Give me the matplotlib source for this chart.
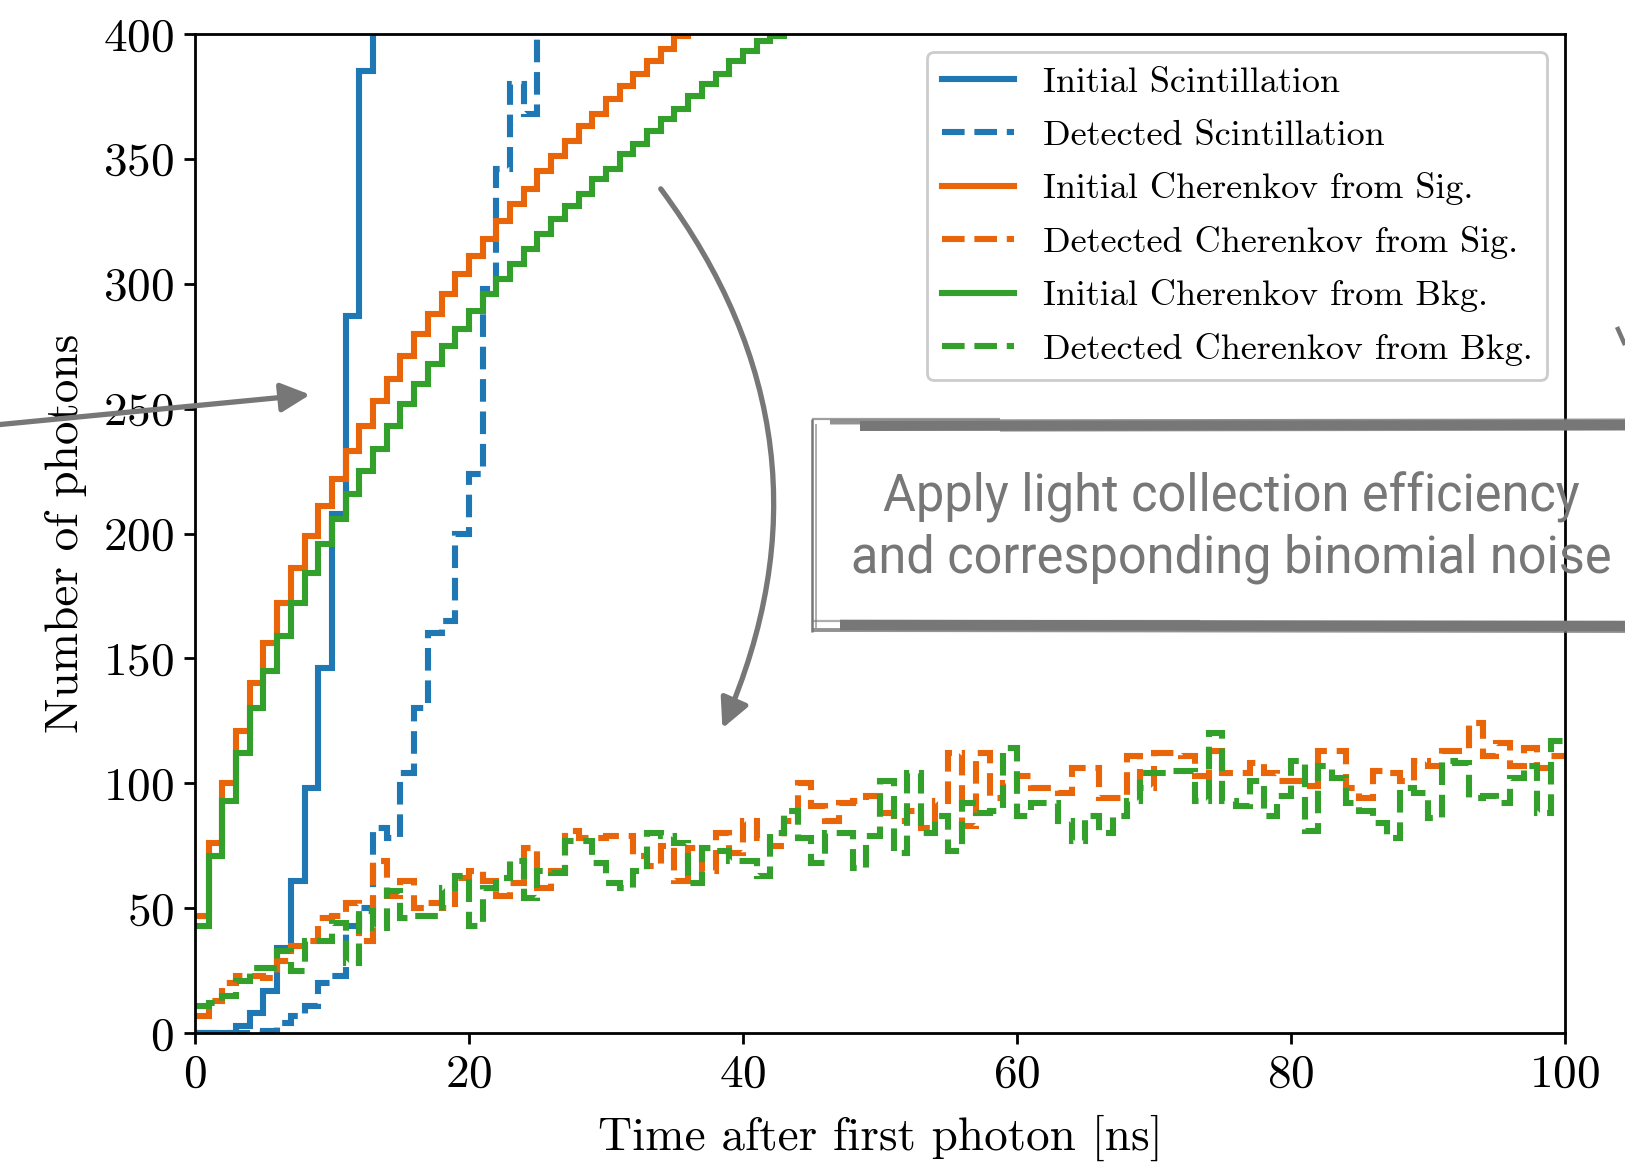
import matplotlib
matplotlib.use("Agg")
import matplotlib.pyplot as plt
from matplotlib.lines import Line2D
import numpy as np

# ---------------------------------------------------------------------------
# Photon counts per 1 ns bin (bins start at t = 0)
# ---------------------------------------------------------------------------
initial_scint = [0, 0, 0, 3, 8, 17, 34, 61, 98, 146, 208, 287, 385, 520]

detected_scint = [0, 0, 0, 0, 0, 1, 4, 7, 11, 20, 23, 43, 50, 82, 78, 104,
                  130, 160, 165, 200, 224, 298, 346, 380, 368, 470]

initial_cher_sig = [47, 76, 100, 121, 140, 156, 172, 186, 199, 211, 222, 233,
                    243, 253, 262, 271, 280, 288, 296, 304, 311, 318, 325,
                    332, 338, 345, 351, 357, 363, 368, 374, 379, 384, 389,
                    394, 399, 405]

detected_cher_sig = [7, 13, 20, 23, 23, 22, 29, 35, 37, 46,
                     47, 52, 37, 69, 55, 61, 50, 52, 50, 62,
                     65, 61, 55, 60, 74, 58, 65, 81, 78, 78,
                     79, 79, 71, 67, 75, 61, 74, 65, 80, 72,
                     85, 78, 75, 85, 100, 91, 85, 92, 93, 95,
                     88, 85, 89, 82, 93, 112, 83, 112, 94, 100,
                     103, 98, 98, 96, 106, 106, 94, 94, 111, 98,
                     112, 112, 111, 103, 113, 104, 104, 108, 104, 101,
                     101, 99, 113, 113, 98, 94, 105, 104, 101, 109,
                     107, 113, 113, 124, 111, 116, 107, 114, 106, 111]

initial_cher_bkg = [43, 71, 93, 112, 130, 145, 159, 172, 184, 196, 206, 216,
                    225, 234, 243, 252, 260, 268, 275, 282, 289, 296, 302,
                    308, 314, 320, 326, 331, 336, 342, 346, 352, 356, 361,
                    366, 370, 375, 380, 384, 389, 393, 397, 399, 404]

detected_cher_bkg = [11, 12, 15, 21, 26, 26, 33, 25, 37, 37,
                     44, 28, 49, 42, 57, 46, 47, 47, 58, 63,
                     43, 58, 62, 69, 54, 65, 64, 77, 77, 68,
                     60, 58, 65, 80, 79, 76, 60, 74, 73, 69,
                     69, 63, 80, 89, 78, 68, 80, 80, 66, 79,
                     101, 72, 104, 80, 87, 73, 92, 88, 89, 114,
                     87, 92, 92, 85, 77, 87, 80, 87, 93, 104,
                     104, 105, 105, 93, 120, 93, 91, 101, 87, 95,
                     109, 81, 107, 102, 92, 89, 84, 78, 98, 96,
                     86, 109, 108, 94, 95, 92, 102, 107, 88, 117]

series_labels = ["Initial Scintillation", "Detected Scintillation",
                 "Initial Cherenkov from Sig.", "Detected Cherenkov from Sig.",
                 "Initial Cherenkov from Bkg.", "Detected Cherenkov from Bkg."]

x_ticks = [0, 20, 40, 60, 80, 100]
y_ticks = [0, 50, 100, 150, 200, 250, 300, 350, 400]

# ---------------------------------------------------------------------------
plt.rcParams.update({
    "font.family": "serif",
    "font.serif": ["cmr10"],
    "mathtext.fontset": "cm",
    "axes.formatter.use_mathtext": True,
    "axes.unicode_minus": False,
})

BLUE = "#1f77b4"
ORANGE = "#e8650a"
GREEN = "#33a02c"
GREY = "#777777"
LW = 2.2

fig = plt.figure(figsize=(8.125, 5.82), dpi=200)
ax = fig.add_axes([0.12, 0.1125, 0.843, 0.8583])

series = [
    (initial_scint, BLUE, "-"),
    (detected_scint, BLUE, "--"),
    (initial_cher_sig, ORANGE, "-"),
    (detected_cher_sig, ORANGE, "--"),
    (initial_cher_bkg, GREEN, "-"),
    (detected_cher_bkg, GREEN, "--"),
]

handles = []
for (vals, col, ls), lab in zip(series, series_labels):
    edges = np.arange(len(vals) + 1)
    ax.stairs(vals, edges, baseline=None, color=col, lw=LW, ls=ls)
    handles.append(Line2D([], [], color=col, lw=LW, ls=ls))

ax.set_xlim(0, 100)
ax.set_ylim(0, 400)
ax.set_xticks(x_ticks)
ax.set_yticks(y_ticks)
ax.tick_params(labelsize=17, width=1.0, length=4)
for sp in ax.spines.values():
    sp.set_linewidth(1.0)

ax.set_xlabel("Time after first photon [ns]", fontsize=17, labelpad=7)
ax.set_ylabel("Number of photons", fontsize=17, labelpad=6)

ax.legend(handles, series_labels, loc="upper right", fontsize=13,
          handlelength=2.0, handletextpad=0.8, labelspacing=0.57,
          borderaxespad=0.5, framealpha=1.0)

# ---------------------------------------------------------------------------
# Annotation arrows
# ---------------------------------------------------------------------------
arrow_kw = dict(arrowstyle="-|>", color=GREY, lw=1.9, mutation_scale=22,
                shrinkA=0, shrinkB=0)
ax.annotate("", xy=(8.4, 255.6), xytext=(-14.5, 243.5),
            arrowprops=arrow_kw, annotation_clip=False)
ax.annotate("", xy=(38.5, 122), xytext=(34.0, 338),
            arrowprops=dict(connectionstyle="arc3,rad=-0.29", **arrow_kw),
            annotation_clip=False)

# ---------------------------------------------------------------------------
# Hand-drawn looking frame around the processing note (figure pixels)
# ---------------------------------------------------------------------------
W, H = 1625.0, 1164.0


def stroke(xs, ys, lw, alpha=1.0):
    fig.add_artist(Line2D([x / W for x in xs], [1 - y / H for y in ys],
                          transform=fig.transFigure, color=GREY, lw=lw,
                          alpha=alpha, solid_capstyle="butt", clip_on=False))


# top edge
stroke([860, 1625], [426, 425], 3.6)
stroke([830, 1625], [422, 421], 1.8, 0.8)
stroke([812, 1000], [419, 419], 0.8, 0.7)
stroke([1000, 1625], [430, 429], 1.2, 0.7)
# bottom edge
stroke([840, 1625], [625, 626], 3.8)
stroke([812, 1625], [630, 631], 1.4, 0.8)
stroke([812, 1200], [621, 621], 0.8, 0.6)
# left edge
stroke([812, 812], [419, 632], 0.9)
stroke([816, 816], [424, 628], 0.6, 0.7)
# fragment of another arrow at the right margin
stroke([1617, 1625], [327, 345], 1.6)

fig.text(0.7575, 0.5465,
         "Apply light collection efficiency\nand corresponding binomial noise",
         ha="center", va="center", fontsize=18.2, color=GREY,
         family="Roboto", linespacing=1.25)

fig.savefig("out.png", dpi=200)
